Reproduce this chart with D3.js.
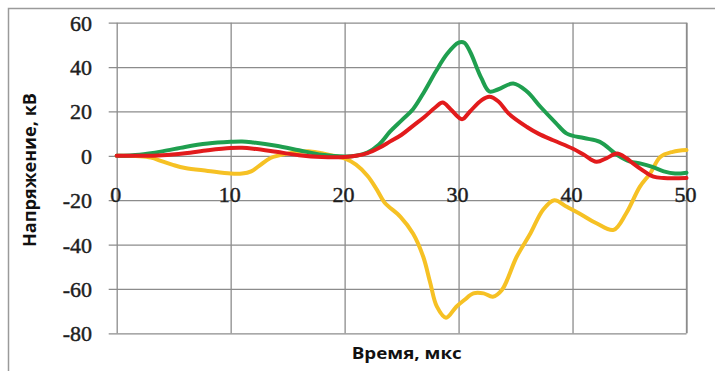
<!DOCTYPE html>
<html>
<head>
<meta charset="utf-8">
<script src="https://cdn.jsdelivr.net/npm/d3@7"></script>
<style>
  html, body { margin: 0; padding: 0; background: #fff; }
  svg { display: block; }
  .tick-label { font-family: "Liberation Serif", "DejaVu Serif", serif; }
  .axis-title { font-family: "Open Sans", "Noto Sans", sans-serif; font-weight: 700; }
</style>
</head>
<body>
<svg id="chart" width="715" height="371"></svg>
<script>
// Voltage waveforms, kV, against time, µs
const greenT = [0, 2, 4, 6, 8, 10, 11, 12, 14, 16, 18, 20, 21, 22, 23, 24, 25, 26, 27, 28, 29, 30, 30.5, 31, 32, 32.7, 33.5, 34.8, 36, 37.2, 38.5, 39.5, 41, 42.4, 43.9, 45, 46, 47, 48, 49, 50];
const greenV = [0, 0.5, 2, 4, 5.5, 6.3, 6.5, 6, 4.5, 2.5, 0.5, -0.3, 0, 1.5, 5, 11, 16, 21, 29, 38, 46, 51, 51, 47, 35, 29, 30, 32.6, 29, 22, 15, 10, 8, 6.3, 0.5, -2.5, -3.5, -5, -7, -8, -7.6];

const redT = [0, 2, 4, 6, 8, 10, 11, 12, 14, 16, 18, 20, 21, 22, 23, 24, 25, 26, 27, 28, 28.6, 29.3, 30.3, 31, 32, 32.7, 33.5, 34.4, 36, 37, 38.3, 40, 41, 42.1, 43, 43.9, 44.7, 45.3, 46, 47.1, 48, 50];
const redV = [0, 0, 0.3, 1.2, 2.5, 3.5, 3.6, 3.2, 1.8, 0.3, -0.5, -0.5, 0, 1.2, 3.5, 6.5, 9.5, 13.5, 17.5, 22, 24, 21, 16.5, 20, 25, 26.6, 24.5, 19, 13, 10, 7, 3.3, 0.5, -2.7, -1, 1, -1, -3.4, -6, -9.4, -10, -10];

const yellowT = [0, 2, 3, 4, 5, 6, 8, 10, 11, 11.8, 12.5, 13.5, 15, 16, 17, 18, 19, 20, 21, 22, 22.8, 23.5, 24.9, 26, 26.9, 27.5, 28.1, 28.9, 29.8, 30.5, 31.3, 32.2, 33, 33.8, 35.1, 36.3, 37.4, 38.4, 39.5, 40.6, 42.1, 43.6, 44.7, 45.9, 46.8, 47.7, 48.8, 50];
const yellowV = [0, -0.2, -0.8, -2.5, -4.2, -5.5, -6.8, -8, -8, -7, -4.5, -1, 1, 1.8, 2, 1.2, 0, -1.2, -4, -9, -15, -21, -27.5, -35, -45.5, -57, -68, -73, -68, -65, -62, -62, -63.5, -60.5, -45.5, -35, -24.4, -20, -23, -26, -30.4, -33.4, -26, -14, -8, -0.5, 1.8, 2.6];

const xTicks = [0, 10, 20, 30, 40, 50];
const yTicks = [60, 40, 20, 0, -20, -40, -60, -80];
const xTitle = "Время, мкс";
const yTitle = "Напряжение, кВ";

const svg = d3.select("#chart");
const plot = { left: 116.7, right: 686.5, top: 22.7, bottom: 333.3 };

const x = d3.scaleLinear().domain([0, 50]).range([plot.left, plot.right]);
const y = d3.scaleLinear().domain([-80, 60]).range([plot.bottom, plot.top]);

// outer chart frame
svg.append("rect")
  .attr("x", 8.5).attr("y", 8.5)
  .attr("width", 720).attr("height", 380)
  .attr("fill", "none").attr("stroke", "#9a9a9a").attr("stroke-width", 1.5);

const gridColor = "#8c8c8c";

// horizontal grid lines with outward ticks on the left
const yAxis = d3.axisLeft(y).tickValues(yTicks)
  .tickSize(-(plot.right - plot.left)).tickSizeOuter(0).tickFormat("");
const gy = svg.append("g").attr("transform", `translate(${plot.left},0)`).call(yAxis);
gy.select(".domain").remove();
gy.selectAll(".tick line").attr("stroke", gridColor).attr("stroke-width", 1.3)
  .attr("x1", -8);

// vertical grid lines
const xGrid = d3.axisBottom(x).tickValues(xTicks)
  .tickSize(-(plot.bottom - plot.top)).tickSizeOuter(0).tickFormat("");
const gx = svg.append("g").attr("transform", `translate(0,${plot.bottom})`).call(xGrid);
gx.select(".domain").remove();
gx.selectAll(".tick line").attr("stroke", gridColor).attr("stroke-width", 1.3);

// plot-area border on the right
svg.append("line")
  .attr("x1", plot.right).attr("x2", plot.right)
  .attr("y1", plot.top).attr("y2", plot.bottom)
  .attr("stroke", gridColor).attr("stroke-width", 1.3);

// y tick labels
svg.append("g").selectAll("text").data(yTicks).join("text")
  .attr("class", "tick-label")
  .attr("x", 92).attr("y", d => y(d) + 8)
  .attr("text-anchor", "end")
  .attr("font-size", 22)
  .attr("fill", "#1e1e1e").attr("stroke", "#1e1e1e").attr("stroke-width", 0.45)
  .text(d => d);

// x tick labels, placed below the zero line
svg.append("g").selectAll("text").data(xTicks).join("text")
  .attr("class", "tick-label")
  .attr("x", d => x(d) - 1).attr("y", y(-20) + 2)
  .attr("text-anchor", "middle")
  .attr("font-size", 22)
  .attr("fill", "#1e1e1e").attr("stroke", "#1e1e1e").attr("stroke-width", 0.45)
  .text(d => d);

// axis titles
svg.append("text")
  .attr("class", "axis-title")
  .attr("x", 406.7).attr("y", 359)
  .attr("text-anchor", "middle")
  .attr("font-size", 16)
  .attr("textLength", 110).attr("lengthAdjust", "spacingAndGlyphs")
  .attr("fill", "#111")
  .text(xTitle);

svg.append("text")
  .attr("class", "axis-title")
  .attr("transform", "translate(36,170) rotate(-90)")
  .attr("text-anchor", "middle")
  .attr("font-size", 17)
  .attr("textLength", 154).attr("lengthAdjust", "spacingAndGlyphs")
  .attr("fill", "#111")
  .text(yTitle);

// smoothed series lines
const line = d3.line()
  .x(d => x(d[0])).y(d => y(d[1]))
  .curve(d3.curveCatmullRom.alpha(0.5));

const series = [
  { t: yellowT, v: yellowV, color: "#f6c124" },
  { t: greenT, v: greenV, color: "#1f9f4f" },
  { t: redT, v: redV, color: "#e21b1c" }
];

svg.append("g").selectAll("path").data(series).join("path")
  .attr("d", s => line(s.t.map((t, i) => [t, s.v[i]])))
  .attr("fill", "none")
  .attr("stroke", s => s.color)
  .attr("stroke-width", 4)
  .attr("stroke-linejoin", "round")
  .attr("stroke-linecap", "round");
</script>
</body>
</html>
